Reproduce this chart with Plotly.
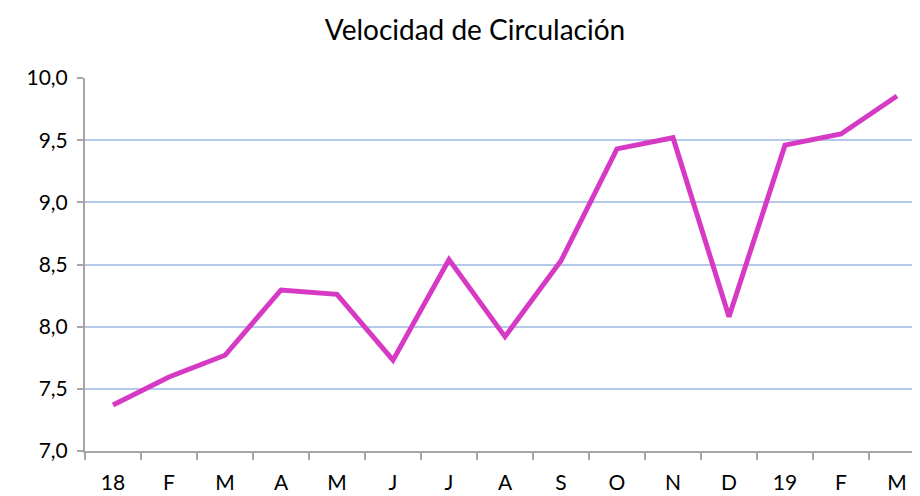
import plotly.graph_objects as go

month_labels = ["18", "F", "M", "A", "M", "J", "J", "A", "S", "O", "N", "D", "19", "F", "M"]
velocity = [7.37, 7.595, 7.77, 8.295, 8.26, 7.73, 8.54, 7.92, 8.53, 9.43, 9.52, 8.08, 9.46, 9.55, 9.855]
y_ticks = [7.0, 7.5, 8.0, 8.5, 9.0, 9.5, 10.0]

x_pos = list(range(len(month_labels)))

fig = go.Figure()
fig.add_trace(go.Scatter(
    x=x_pos, y=velocity, mode="lines",
    line=dict(color="#D63AC4", width=5),
    hoverinfo="skip", showlegend=False,
))

fig.update_layout(
    width=920, height=496,
    margin=dict(l=77, r=3, t=70, b=53),
    paper_bgcolor="white", plot_bgcolor="white",
    separators=",.",
    font=dict(family="Lato, Open Sans, sans-serif", size=21, color="#000000"),
    title=dict(text="Velocidad de Circulación", x=467/920, xanchor="center",
               y=1 - 22/496, yanchor="middle",
               font=dict(size=28, color="#000000")),
    xaxis=dict(
        range=[-0.5, 14.5], tickmode="array", tickvals=x_pos, ticktext=month_labels,
        ticks="", showgrid=False, zeroline=False,
        showline=True, linecolor="#A6A6A6", linewidth=2,
        ticklabelstandoff=12,
        minor=dict(tickmode="array", tickvals=[i + 0.5 for i in range(-1, len(month_labels))],
                   ticks="outside", ticklen=7, tickcolor="#A6A6A6", tickwidth=2, showgrid=False),
    ),
    yaxis=dict(
        range=[7.0, 10.0], tickmode="array", tickvals=y_ticks, tickformat=".1f",
        ticks="outside", ticklen=6, tickcolor="#A6A6A6", tickwidth=2,
        showgrid=True, gridcolor="#B4C8EA", gridwidth=2, zeroline=False,
        showline=True, linecolor="#A6A6A6", linewidth=2,
        ticklabelstandoff=5,
    ),
)

fig.write_html("out.html")
